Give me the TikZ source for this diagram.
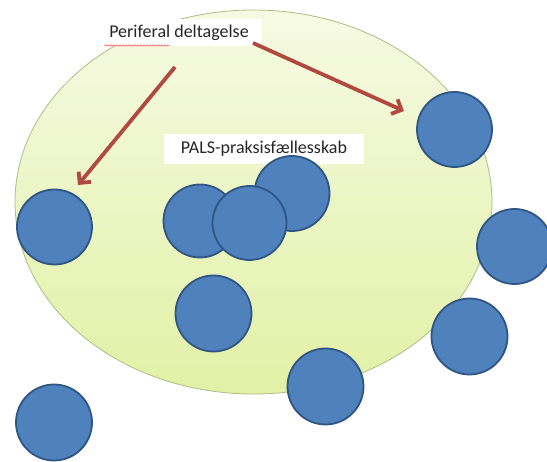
\documentclass[tikz,border=0pt]{standalone}
\usepackage{fontspec}
\setmainfont{Carlito}
\usetikzlibrary{arrows.meta,decorations.pathmorphing}

\definecolor{ringfill}{HTML}{4F81BD}
\definecolor{ringedge}{HTML}{2F5582}
\definecolor{arrowred}{HTML}{B04A40}
\definecolor{areatop}{HTML}{F6FAE3}
\definecolor{areamid}{HTML}{EFF7CD}
\definecolor{areabot}{HTML}{E2F1A6}
\definecolor{areaedge}{HTML}{AEBC84}

\tikzset{
  member/.style={circle, draw=ringedge, fill=ringfill, line width=1.8pt,
    minimum size=75pt, inner sep=0pt},
  tag/.style={fill=white, inner sep=0pt, font=\fontsize{18}{20}\selectfont,
    text=black!85},
  pointer/.style={draw=arrowred, line width=3.8pt,
    -{Straight Barb[length=8pt,width=16pt,line width=3.8pt]}},
}

\begin{document}
\begin{tikzpicture}[x=1pt,y=-1pt]
  \useasboundingbox (0,0) rectangle (547,462);

  % community area
  \shade[top color=areatop, middle color=areamid, bottom color=areabot]
    (253.5,202) ellipse [x radius=238.5, y radius=192];
  \draw[areaedge, line width=0.8pt] (253.5,202) ellipse [x radius=238.5, y radius=192];

  % labels on white boxes
  \node[tag, minimum width=166pt, minimum height=27pt] (periph) at (179,33) {Periferal deltagelse};
  \draw[red!70, line width=0.5pt, decorate,
        decoration={snake, amplitude=0.7pt, segment length=3pt}]
    (104,45.5) -- (170,45.5);
  \node[tag, minimum width=200pt, minimum height=30pt] (pals) at (264,149) {PALS-praksisfællesskab};

  % arrows towards the edge
  \coordinate (lstart) at (175,67);
  \coordinate (ltip)   at (78,185);
  \coordinate (rstart) at (253,43);
  \coordinate (rtip)   at (404,111);
  \draw[pointer] (lstart) -- (ltip);
  \draw[pointer] (rstart) -- (rtip);

  % members
  \node[member] (m1) at (54.5,227) {};
  \node[member] (m2) at (454.5,129.5) {};
  \node[member, minimum size=73pt] (ca) at (200,221) {};
  \node[member] (cb) at (292,193.5) {};
  \node[member, minimum size=74pt] (cc) at (249.5,223) {};
  \node[member] (m4) at (514.5,246.5) {};
  \node[member, minimum size=76pt] (m5) at (213.5,313.5) {};
  \node[member, minimum size=76pt] (m6) at (469.5,336.5) {};
  \node[member, minimum size=76pt] (m7) at (325.5,386.5) {};
  \node[member, minimum size=76pt] (m8) at (54,422.5) {};
\end{tikzpicture}
\end{document}
